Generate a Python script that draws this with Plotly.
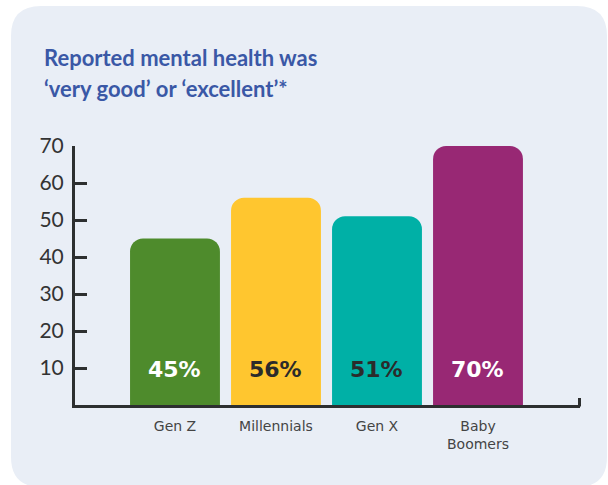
import plotly.graph_objects as go

categories = ["Gen Z", "Millennials", "Gen X", "Baby<br>Boomers"]
values = [45, 56, 51, 70]
labels = ["45%", "56%", "51%", "70%"]
bar_colors = ["#4E8B2C", "#FFC62F", "#00B0A6", "#982874"]
label_colors = ["#FFFFFF", "#2B2B2B", "#2B2B2B", "#FFFFFF"]
y_ticks = [10, 20, 30, 40, 50, 60, 70]
title_lines = ["Reported mental health was", "‘very good’ or ‘excellent’*"]

W, H = 608, 485
L, R, T, B = 75, 28, 146, 80
PW, PH = W - L - R, H - T - B

def px(x):
    return (x - L) / PW

def py(y):
    return (H - B - y) / PH

# rounded card path (pixel coordinates -> paper)
x0, x1, y0, y1, r = 11, 607, 6, 487, 30
pts = [
    ("M", x0 + r, y0), ("L", x1 - r, y0), ("Q", x1, y0, x1, y0 + r),
    ("L", x1, y1 - r), ("Q", x1, y1, x1 - r, y1), ("L", x0 + r, y1),
    ("Q", x0, y1, x0, y1 - r), ("L", x0, y0 + r), ("Q", x0, y0, x0 + r, y0),
]
path = ""
for p in pts:
    cmd = p[0]
    coords = p[1:]
    segs = []
    for i in range(0, len(coords), 2):
        segs.append(f"{px(coords[i]):.5f},{py(coords[i+1]):.5f}")
    path += cmd + " ".join(segs) + " "
path += "Z"

fig = go.Figure()
fig.add_trace(go.Bar(
    x=categories, y=values, marker_color=bar_colors, marker_line_width=0,
    width=0.89, hoverinfo="skip",
))

for c, lab, col in zip(categories, labels, label_colors):
    fig.add_annotation(x=c, y=0, text=f"<b>{lab}</b>", showarrow=False,
                       yshift=36, yanchor="middle",
                       font=dict(family="DejaVu Sans", size=22, color=col))

fig.add_shape(type="path", path=path, xref="paper", yref="paper",
              fillcolor="#E9EEF6", line_width=0, layer="below")
# small end tick at right of x axis
fig.add_shape(type="line", xref="paper", yref="paper",
              x0=px(579.5), x1=px(579.5), y0=py(398), y1=py(406.5),
              line=dict(color="#2D2F30", width=3))

for line, yc in zip(title_lines, [57, 88]):
    fig.add_annotation(xref="paper", yref="paper", x=px(42), y=py(yc),
                       xanchor="left", yanchor="middle", align="left",
                       showarrow=False, text=f"<b>{line}</b>",
                       font=dict(family="Lato", size=22, color="#3A58A6"))

fig.update_layout(
    width=W, height=H, margin=dict(l=L, r=R, t=T, b=B),
    paper_bgcolor="white", plot_bgcolor="rgba(0,0,0,0)",
    showlegend=False, barcornerradius=13,
    xaxis=dict(range=[-0.99, 4.01], showgrid=False, zeroline=False,
               showline=True, linecolor="#2D2F30", linewidth=3,
               ticks="", ticklabelstandoff=6,
               tickfont=dict(family="DejaVu Sans", size=14, color="#444444"),
               fixedrange=True),
    yaxis=dict(range=[0, 70], tickvals=y_ticks, showgrid=False, zeroline=False,
               showline=True, linecolor="#2D2F30", linewidth=3,
               ticks="inside", ticklen=12, tickwidth=3, tickcolor="#2D2F30",
               ticklabelstandoff=4,
               tickfont=dict(family="Lato", size=21, color="#333333"),
               fixedrange=True),
)

fig.write_html("out.html")
